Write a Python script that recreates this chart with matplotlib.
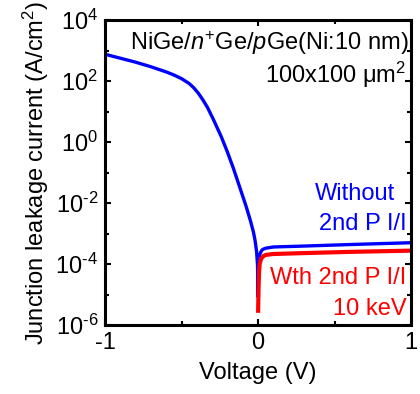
import matplotlib
matplotlib.use("Agg")
import matplotlib.pyplot as plt
import numpy as np

plt.rcParams['font.family'] = ['Liberation Sans', 'DejaVu Sans']
plt.rcParams['mathtext.fontset'] = 'custom'
plt.rcParams['mathtext.rm'] = 'Liberation Sans'
plt.rcParams['mathtext.it'] = 'Liberation Sans:italic'
plt.rcParams['mathtext.bf'] = 'Liberation Sans:bold'

# Blue: without 2nd P I/I  (voltage, log10 current density)
v_without = [-1.0, -0.9, -0.8, -0.7, -0.6, -0.55, -0.5, -0.45, -0.42, -0.39, -0.36, -0.33,
             -0.29, -0.24, -0.2, -0.16, -0.12, -0.08, -0.05, -0.03, -0.02, -0.01, -0.004, 0.0,
             0.002, 0.005, 0.01, 0.02, 0.03, 0.05, 0.1, 0.3, 0.6, 1.0]
logj_without = [2.88, 2.75, 2.62, 2.47, 2.30, 2.20, 2.08, 1.92, 1.78, 1.60, 1.38, 1.13,
                0.72, 0.17, -0.33, -0.88, -1.48, -2.08, -2.58, -2.96, -3.22, -3.58, -4.0, -5.07,
                -4.4, -3.9, -3.7, -3.58, -3.52, -3.48, -3.44, -3.41, -3.36, -3.30]

# Red: with 2nd P I/I 10 keV
v_with = [0.0, 0.003, 0.006, 0.01, 0.02, 0.035, 0.05, 0.1, 0.3, 0.6, 1.0]
logj_with = [-5.6, -4.8, -4.3, -4.0, -3.82, -3.74, -3.70, -3.67, -3.64, -3.60, -3.56]

xticks = [-1, 0, 1]
xtick_labels = ['-1', '0', '1']
yticks = [1e-6, 1e-4, 1e-2, 1e0, 1e2, 1e4]
ytick_labels = ['$\\mathregular{10^{\\text{-}6}}$', '$\\mathregular{10^{\\text{-}4}}$',
                '$\\mathregular{10^{\\text{-}2}}$', '$\\mathregular{10^{0}}$',
                '$\\mathregular{10^{2}}$', '$\\mathregular{10^{4}}$']

FS = 17

fig = plt.figure(figsize=(4.2, 3.94), dpi=100)
ax = fig.add_axes([0.25, 0.175, 0.729, 0.774])

ax.semilogy(v_without, 10 ** np.array(logj_without), color='#0000ff', lw=2.4, solid_capstyle='butt')
ax.semilogy(v_with, 10 ** np.array(logj_with), color='#ff0000', lw=3.0, solid_capstyle='butt')

ax.set_xlim(-1, 1)
ax.set_ylim(1e-6, 1e4)
ax.set_xticks(xticks)
ax.set_xticklabels(xtick_labels)
ax.set_xticks([-0.5, 0.5], minor=True)
ax.set_yticks(yticks)
ax.set_yticklabels(ytick_labels)
ax.set_yticks([10.0 ** k for k in range(-5, 4, 2)], minor=True)
ax.yaxis.set_minor_formatter(matplotlib.ticker.NullFormatter())

for s in ax.spines.values():
    s.set_linewidth(2.2)
ax.tick_params(which='both', direction='in', top=True, right=True, width=1.5, labelsize=FS)
ax.tick_params(which='major', length=4, pad=5)
ax.tick_params(which='minor', length=3)

ax.set_xlabel('Voltage (V)', fontsize=FS, labelpad=6)
ax.set_ylabel('Junction leakage current (A/cm$^2$)', fontsize=FS, labelpad=3)

ax.text(0.99, 0.925, 'NiGe/$n^{+}$Ge/$p$Ge(Ni:10 nm)', transform=ax.transAxes,
        ha='right', va='center', fontsize=FS)
ax.text(0.985, 0.82, '100x100 \u03bcm$^2$', transform=ax.transAxes,
        ha='right', va='center', fontsize=FS)
ax.text(0.815, 0.43, 'Without', transform=ax.transAxes, ha='center', va='center',
        fontsize=FS, color='#0000ff')
ax.text(0.985, 0.33, '2nd P I/I', transform=ax.transAxes, ha='right', va='center',
        fontsize=FS, color='#0000ff')
ax.text(0.985, 0.155, 'Wth 2nd P I/I', transform=ax.transAxes, ha='right', va='center',
        fontsize=FS, color='#ff0000')
ax.text(0.985, 0.052, '10 keV', transform=ax.transAxes, ha='right', va='center',
        fontsize=FS, color='#ff0000')

fig.savefig('out.png', dpi=100)
